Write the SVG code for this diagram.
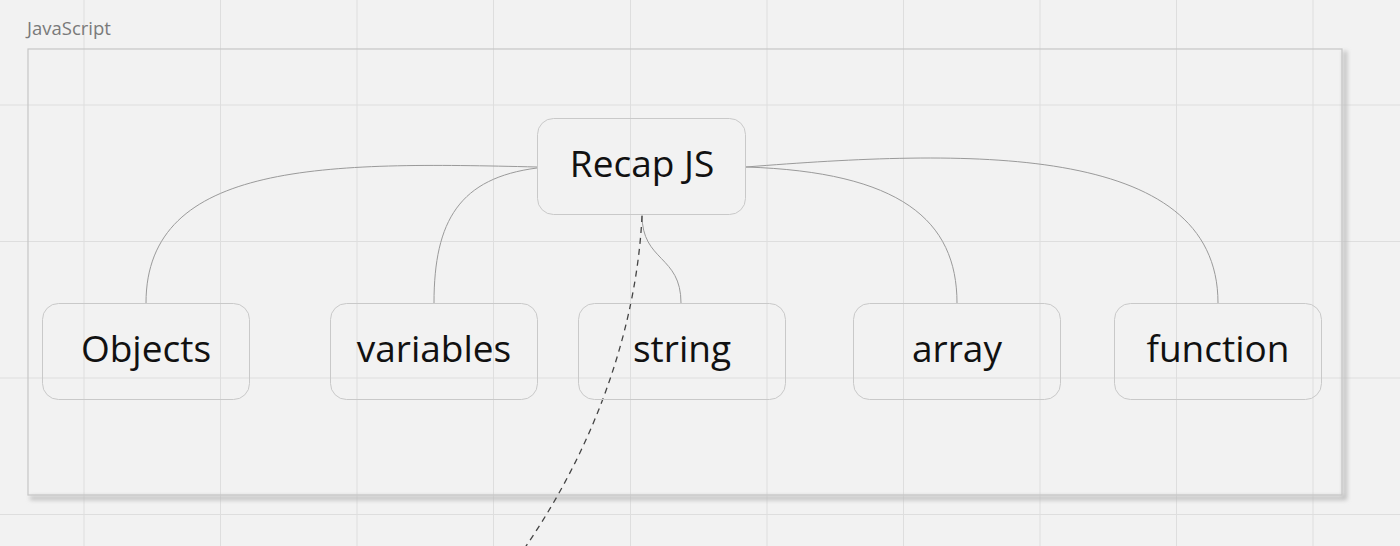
<svg xmlns="http://www.w3.org/2000/svg" width="1400" height="546" viewBox="0 0 1400 546">
<defs>
<style>
.grid line{stroke:#dedede;stroke-width:1}
.node rect{fill:none;stroke:#c9c9c9;stroke-width:1}
.node text{font-family:"Open Sans","Noto Sans",sans-serif;font-size:37px;fill:#111;text-anchor:middle}
.conn path{fill:none;stroke:#9a9a9a;stroke-width:1}
.conn path.dash{stroke:#444;stroke-width:1.3;stroke-dasharray:6 5}
</style>
<filter id="sh" x="-5%" y="-5%" width="110%" height="110%"><feGaussianBlur stdDeviation="2"/></filter>
</defs>
<rect width="1400" height="546" fill="#f2f2f2"/>
<g class="grid">
<line x1="84" y1="0" x2="84" y2="546"/>
<line x1="220.5" y1="0" x2="220.5" y2="546"/>
<line x1="357" y1="0" x2="357" y2="546"/>
<line x1="493.5" y1="0" x2="493.5" y2="546"/>
<line x1="630.5" y1="0" x2="630.5" y2="546"/>
<line x1="767" y1="0" x2="767" y2="546"/>
<line x1="903.5" y1="0" x2="903.5" y2="546"/>
<line x1="1040" y1="0" x2="1040" y2="546"/>
<line x1="1176.5" y1="0" x2="1176.5" y2="546"/>
<line x1="1313" y1="0" x2="1313" y2="546"/>
<line x1="0" y1="105" x2="1400" y2="105"/>
<line x1="0" y1="241.5" x2="1400" y2="241.5"/>
<line x1="0" y1="378" x2="1400" y2="378"/>
<line x1="0" y1="514.5" x2="1400" y2="514.5"/>
</g>
<g id="frame">
<text x="27" y="35" font-family="Open Sans, Noto Sans, sans-serif" font-size="18.5" fill="#7a7a7a">JavaScript</text>
<path d="M30,498 H1345 V51" fill="none" stroke="#bdbdbd" stroke-width="4" filter="url(#sh)"/>
<rect x="28" y="49" width="1314" height="446" fill="none" stroke="#c6c6c6" stroke-width="1.2"/>
</g>
<g class="conn">
<path d="M537,167 C330,162 146,160 146,303"/>
<path d="M537,168 C460,178 434,220 434,303"/>
<path d="M642,215 C642,262 681,255 681,303"/>
<path d="M746,167 C900,172 957,220 957,303"/>
<path d="M746,167 C960,150 1218,140 1218,303"/>
<path class="dash" d="M642,216 C637,320 600,440 522,552"/>
</g>
<g id="recap" class="node"><rect x="537.5" y="118.5" width="208" height="96" rx="16"/><text x="642" y="177">Recap JS</text></g>
<g id="objects" class="node"><rect x="42.5" y="303.5" width="207" height="96" rx="16"/><text x="146" y="362">Objects</text></g>
<g id="variables" class="node"><rect x="330.5" y="303.5" width="207" height="96" rx="16"/><text x="434" y="362">variables</text></g>
<g id="string" class="node"><rect x="578.5" y="303.5" width="207" height="96" rx="16"/><text x="682" y="362">string</text></g>
<g id="array" class="node"><rect x="853.5" y="303.5" width="207" height="96" rx="16"/><text x="957" y="362">array</text></g>
<g id="function" class="node"><rect x="1114.5" y="303.5" width="207" height="96" rx="16"/><text x="1218" y="362">function</text></g>
</svg>
